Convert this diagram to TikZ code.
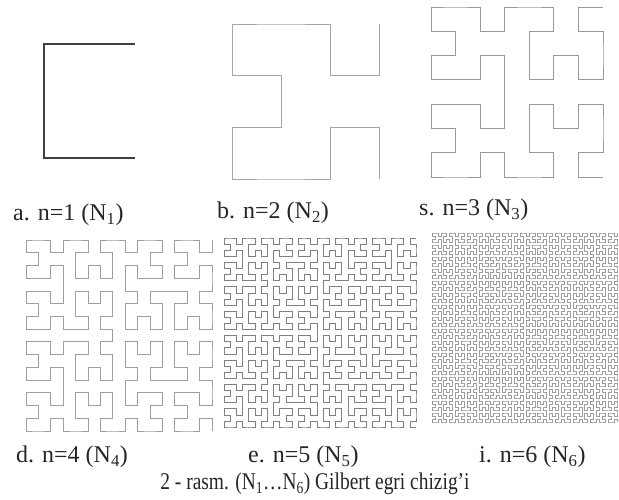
\documentclass[tikz,border=0pt]{standalone}
\usepackage{fontspec}
\setmainfont{Liberation Serif}
\usetikzlibrary{lindenmayersystems}
\pgfdeclarelindenmayersystem{Hilbert}{
  \rule{L -> +RF-LFL-FR+}
  \rule{R -> -LF+RFR+FL-}}
\begin{document}
\begin{tikzpicture}[x=1pt,y=1pt,
  captxt/.style={inner sep=0pt, anchor=base west, text=black!85, font=\fontsize{24}{28}\selectfont},
  hil/.style={line join=miter, line cap=butt}]
\fill[white] (0,0) rectangle (619,500);
\useasboundingbox (0,0) rectangle (619,500);
% N1
\draw[hil, black!75, line width=1.3pt, cm={0,-114,-91,0,(135pt,456pt)},
  lindenmayer system={Hilbert, axiom=L, order=1, step=1pt, angle=90}] (0,0) lindenmayer system;
% N2
\draw[hil, black!35, line width=0.9pt, cm={0,-51.667,-49,0,(379pt,476pt)},
  lindenmayer system={Hilbert, axiom=L, order=2, step=1pt, angle=90}] (0,0) lindenmayer system;
% N3
\draw[hil, black!40, line width=0.9pt, cm={0,-24.286,-24.571,0,(603pt,493pt)},
  lindenmayer system={Hilbert, axiom=L, order=3, step=1pt, angle=90}] (0,0) lindenmayer system;
% N4
\draw[hil, black!38, line width=0.8pt, cm={0,-12.733,-12.4,0,(212pt,260pt)},
  lindenmayer system={Hilbert, axiom=L, order=4, step=1pt, angle=90}] (0,0) lindenmayer system;
% N5
\draw[hil, black!50, line width=0.6pt, cm={0,-6.097,-6.194,0,(416pt,262pt)},
  lindenmayer system={Hilbert, axiom=L, order=5, step=1pt, angle=90}] (0,0) lindenmayer system;
% N6
\draw[hil, black!38, line width=0.5pt, cm={0,-3.0,-2.937,0,(617pt,267pt)},
  lindenmayer system={Hilbert, axiom=L, order=6, step=1pt, angle=90}] (0,0) lindenmayer system;
% captions
\node[captxt] (ca) at (13,279) {a. n=1 (N\textsubscript{1})};
\node[captxt] (cb) at (217,281) {b. n=2 (N\textsubscript{2})};
\node[captxt] (cs) at (419,284) {s. n=3 (N\textsubscript{3})};
\node[captxt] (cd) at (16,37) {d. n=4 (N\textsubscript{4})};
\node[captxt] (ce) at (248,37) {e. n=5 (N\textsubscript{5})};
\node[captxt] (ci) at (479,37) {i. n=6 (N\textsubscript{6})};
\node[captxt, anchor=base] (title) at (315,10) {\scalebox{0.81}[1]{2 - rasm. (N\textsubscript{1}…N\textsubscript{6}) Gilbert egri chizig’i}};
\end{tikzpicture}
\end{document}
